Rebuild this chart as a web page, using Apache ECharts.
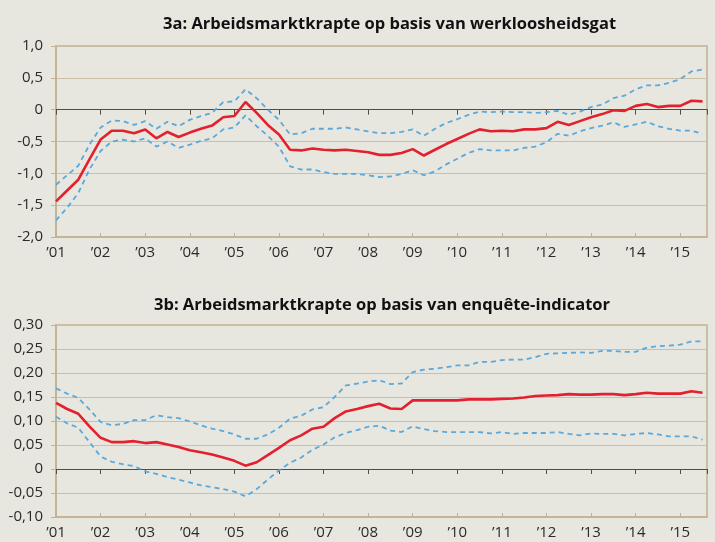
<!DOCTYPE html>
<html>
<head>
<meta charset="utf-8">
<script src="https://cdn.jsdelivr.net/npm/echarts@6/dist/echarts.min.js"></script>
<style>
  html, body { margin: 0; padding: 0; background: #e8e7df; }
  #chart { width: 715px; height: 542px; }
</style>
</head>
<body>
<div id="chart"></div>
<script>
// kwartaalcijfers, 2001K1 t/m 2015K3
const startYear = 2001;
const yearTicks = [2001, 2002, 2003, 2004, 2005, 2006, 2007, 2008, 2009, 2010, 2011, 2012, 2013, 2014, 2015];

// 3a: werkloosheidsgat
const gapMid = [
  -1.44, -1.27, -1.10, -0.78,
  -0.47, -0.33, -0.33, -0.37,
  -0.31, -0.45, -0.35, -0.43,
  -0.36, -0.30, -0.25, -0.12,
  -0.10, 0.12, -0.05, -0.24,
  -0.39, -0.63, -0.64, -0.61,
  -0.63, -0.64, -0.63, -0.65,
  -0.67, -0.71, -0.71, -0.68,
  -0.62, -0.72, -0.63, -0.54,
  -0.46, -0.38, -0.31, -0.34,
  -0.33, -0.34, -0.31, -0.31,
  -0.29, -0.19, -0.24, -0.18,
  -0.12, -0.07, -0.01, -0.02,
  0.06, 0.09, 0.04, 0.06,
  0.06, 0.14, 0.13
];
const gapHigh = [
  -1.18, -1.03, -0.88, -0.55,
  -0.28, -0.17, -0.18, -0.24,
  -0.18, -0.30, -0.19, -0.26,
  -0.16, -0.10, -0.05, 0.12,
  0.13, 0.32, 0.18, 0.00,
  -0.16, -0.39, -0.37, -0.30,
  -0.30, -0.30, -0.28, -0.31,
  -0.34, -0.37, -0.37, -0.35,
  -0.31, -0.41, -0.30, -0.21,
  -0.15, -0.08, -0.03, -0.04,
  -0.03, -0.04, -0.04, -0.05,
  -0.04, -0.02, -0.08, -0.03,
  0.04, 0.08, 0.18, 0.22,
  0.32, 0.38, 0.38, 0.42,
  0.48, 0.60, 0.63
];
const gapLow = [
  -1.74, -1.54, -1.31, -0.94,
  -0.65, -0.50, -0.47, -0.50,
  -0.45, -0.58, -0.50, -0.60,
  -0.55, -0.49, -0.45, -0.31,
  -0.28, -0.09, -0.26, -0.41,
  -0.58, -0.89, -0.94, -0.94,
  -0.98, -1.01, -1.01, -1.01,
  -1.03, -1.06, -1.05, -1.01,
  -0.95, -1.03, -0.97, -0.86,
  -0.77, -0.68, -0.62, -0.64,
  -0.64, -0.64, -0.60, -0.58,
  -0.51, -0.38, -0.41, -0.34,
  -0.29, -0.25, -0.20, -0.27,
  -0.23, -0.19, -0.26, -0.30,
  -0.33, -0.33, -0.38
];

// 3b: enquête-indicator
const survMid = [
  0.138, 0.125, 0.115, 0.089,
  0.065, 0.056, 0.056, 0.058,
  0.054, 0.056, 0.051, 0.046,
  0.039, 0.035, 0.030, 0.024,
  0.017, 0.007, 0.014, 0.029,
  0.044, 0.060, 0.070, 0.084,
  0.088, 0.106, 0.120, 0.125,
  0.131, 0.136, 0.126, 0.125,
  0.143, 0.143, 0.143, 0.143,
  0.143, 0.145, 0.145, 0.145,
  0.146, 0.147, 0.149, 0.152,
  0.153, 0.154, 0.156, 0.155,
  0.155, 0.156, 0.156, 0.154,
  0.156, 0.159, 0.157, 0.157,
  0.157, 0.162, 0.159
];
const survHigh = [
  0.168, 0.157, 0.148, 0.124,
  0.098, 0.091, 0.094, 0.102,
  0.102, 0.112, 0.108, 0.106,
  0.099, 0.091, 0.084, 0.079,
  0.072, 0.063, 0.063, 0.072,
  0.086, 0.105, 0.111, 0.124,
  0.129, 0.150, 0.174, 0.178,
  0.182, 0.185, 0.177, 0.178,
  0.202, 0.207, 0.209, 0.212,
  0.216, 0.216, 0.223, 0.223,
  0.227, 0.228, 0.228, 0.233,
  0.240, 0.241, 0.242, 0.243,
  0.242, 0.246, 0.246, 0.244,
  0.244, 0.253, 0.256, 0.257,
  0.259, 0.266, 0.266
];
const survLow = [
  0.109, 0.095, 0.086, 0.056,
  0.026, 0.015, 0.010, 0.006,
  -0.005, -0.010, -0.017, -0.022,
  -0.028, -0.034, -0.038, -0.042,
  -0.047, -0.057, -0.042, -0.022,
  -0.003, 0.013, 0.024, 0.040,
  0.051, 0.066, 0.075, 0.081,
  0.088, 0.090, 0.080, 0.077,
  0.089, 0.083, 0.079, 0.077,
  0.077, 0.077, 0.077, 0.074,
  0.077, 0.073, 0.075, 0.075,
  0.075, 0.077, 0.073, 0.070,
  0.074, 0.073, 0.073, 0.070,
  0.073, 0.075, 0.072, 0.068,
  0.068, 0.068, 0.061
];

const gridColor = '#cdbfa3';
const axisColor = '#c2b191';
const zeroColor = '#5b4a3e';
const textColor = '#2a2a2a';
const red = '#e2202e';
const blue = '#5aa8dc';

// x-waarde per kwartaal
function pairs(vals) {
  return vals.map((v, i) => [startYear + i * 0.25, v]);
}

function yearLabel(v) {
  if (yearTicks.indexOf(v) < 0) return '';
  return '\u2019' + String(v).slice(2);
}

function numLabel(dec) {
  return function (v) {
    if (Math.abs(v) < 1e-9) return '0';
    return v.toFixed(dec).replace('.', ',');
  };
}

function xAxes(gi) {
  return [
    {
      gridIndex: gi, type: 'value', position: 'bottom',
      min: 2001, max: 2015.6, interval: 1,
      axisLine: { onZero: false, lineStyle: { color: axisColor, width: 1.5 } },
      axisTick: { inside: true, length: 4, lineStyle: { color: axisColor } },
      axisLabel: { formatter: yearLabel, color: textColor, fontSize: 15, margin: 8, fontFamily: 'Open Sans', showMaxLabel: false },
      splitLine: { show: false }
    },
    {
      gridIndex: gi, type: 'value', position: 'top',
      min: 2001, max: 2015.6, interval: 1,
      axisLine: { onZero: true, lineStyle: { color: zeroColor, width: 1.2 } },
      axisTick: { inside: true, length: 5, lineStyle: { color: zeroColor } },
      axisLabel: { show: false },
      splitLine: { show: false }
    }
  ];
}

function yAxis(gi, min, max, step, dec) {
  return {
    gridIndex: gi, type: 'value', min: min, max: max, interval: step,
    axisLine: { show: true, lineStyle: { color: axisColor, width: 1.5 } },
    axisTick: { show: true, length: 5, lineStyle: { color: axisColor } },
    axisLabel: { formatter: numLabel(dec), color: textColor, fontSize: 15, margin: 13, fontFamily: 'Open Sans' },
    splitLine: { lineStyle: { color: gridColor, width: 1.2 } }
  };
}

function dashed(vals, xi, yi) {
  return {
    type: 'line', xAxisIndex: xi, yAxisIndex: yi, data: pairs(vals),
    showSymbol: false, silent: true,
    lineStyle: { color: blue, width: 1.8, type: [5, 4] }
  };
}

function solid(vals, xi, yi) {
  return {
    type: 'line', xAxisIndex: xi, yAxisIndex: yi, data: pairs(vals),
    showSymbol: false, silent: true, z: 3,
    lineStyle: { color: red, width: 2.6 }
  };
}

const chart = echarts.init(document.getElementById('chart'));
chart.setOption({
  backgroundColor: '#e8e7df',
  animation: false,
  title: [
    { text: '3a: Arbeidsmarktkrapte op basis van werkloosheidsgat', left: 158, top: 11,
      textStyle: { fontSize: 16.5, fontWeight: 'bold', color: '#111', fontFamily: 'Open Sans' } },
    { text: '3b: Arbeidsmarktkrapte op basis van enquête-indicator', left: 149, top: 292,
      textStyle: { fontSize: 16.5, fontWeight: 'bold', color: '#111', fontFamily: 'Open Sans' } }
  ],
  grid: [
    { left: 56, right: 8, top: 46, height: 191, show: true, borderColor: axisColor, borderWidth: 1.5, backgroundColor: 'transparent' },
    { left: 56, right: 8, top: 325, height: 192, show: true, borderColor: axisColor, borderWidth: 1.5, backgroundColor: 'transparent' }
  ],
  xAxis: xAxes(0).concat(xAxes(1)),
  yAxis: [
    yAxis(0, -2, 1, 0.5, 1),
    yAxis(1, -0.1, 0.3, 0.05, 2)
  ],
  series: [
    dashed(gapHigh, 0, 0),
    dashed(gapLow, 0, 0),
    solid(gapMid, 0, 0),
    dashed(survHigh, 2, 1),
    dashed(survLow, 2, 1),
    solid(survMid, 2, 1)
  ]
});
</script>
</body>
</html>
